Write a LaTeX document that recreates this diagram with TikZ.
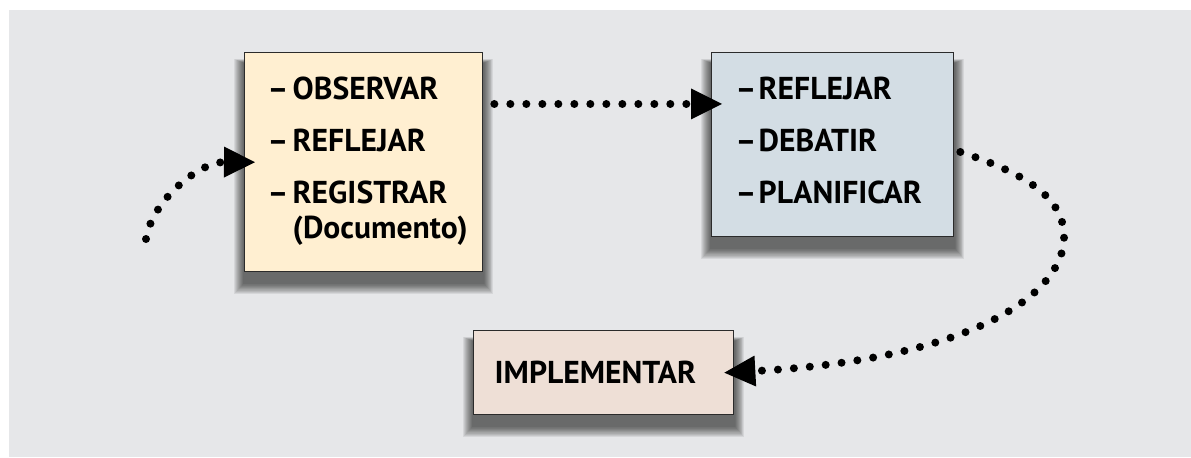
\documentclass[tikz,border=0pt]{standalone}
\usepackage{fontspec}
\setmainfont{PT Sans}
\usetikzlibrary{arrows.meta}
\pgfdeclarelayer{back}
\pgfsetlayers{back,main}
\definecolor{bggray}{HTML}{E6E7E9}
\definecolor{obsfill}{HTML}{FFEFD1}
\definecolor{discfill}{HTML}{D3DDE4}
\definecolor{implfill}{HTML}{EEDFD6}
\definecolor{boxline}{HTML}{2B2B2B}

\begin{document}
\begin{tikzpicture}[x=0.02cm,y=-0.02cm,
  box/.style={draw=boxline,line width=0.8pt,anchor=north west,
    inner ysep=0pt,align=left,
    font=\fontsize{18}{19.4}\selectfont\bfseries},
  dots/.style={line width=0.16cm,line cap=round,
    dash pattern=on 0pt off 0.32cm,
    -{Triangle[length=0.62cm,width=0.62cm,line width=0pt]}},
]
  \useasboundingbox (0,0) rectangle (1191,457);

  \node[box,fill=obsfill,inner xsep=0.46cm,text width=3.84cm,minimum height=4.38cm] (obs) at (244,52) {%
    \begin{tabular}{@{}p{0.5cm}@{}l@{}}
      – & OBSERVAR\\[10.2pt]
      – & REFLEJAR\\[10.2pt]
      – & REGISTRAR\\
        & (Documento)
    \end{tabular}};
  \node[box,fill=discfill,inner xsep=0.48cm,text width=3.88cm,minimum height=3.68cm] (disc) at (711,52) {%
    \begin{tabular}{@{}p{0.46cm}@{}l@{}}
      – & REFLEJAR\\[10.2pt]
      – & DEBATIR\\[10.2pt]
      – & PLANIFICAR
    \end{tabular}};
  \node[box,fill=implfill,inner xsep=0.42cm,text width=4.36cm,minimum height=1.68cm] (impl) at (473,330) {IMPLEMENTAR};

  \begin{pgfonlayer}{back}
    \fill[white] (0,0) rectangle (1191,457);
    \fill[bggray] (9,10) rectangle (1191,457);
    % soft shadows under the boxes
    \foreach \n in {obs,disc,impl}
      \foreach \k in {0,...,19}
        \fill[black,opacity=0.035]
          ([shift={(-0.2cm+\k*0.0095cm,-0.14cm-\k*0.004cm)}]\n.north west) rectangle
          ([shift={(0.2cm-\k*0.0095cm,-0.44cm+\k*0.011cm)}]\n.south east);
  \end{pgfonlayer}

  \coordinate (start) at (146,239);
  \draw[dots] (start) .. controls (152,200) and (200,162) .. ([xshift=0.22cm]obs.west);
  \draw[dots] ([shift={(0.22cm,-1.04cm)}]obs.north east) -- ([shift={(0.22cm,-1.04cm)}]disc.north west);
  \draw[dots] ([shift={(0.12cm,-2cm)}]disc.north east) .. controls (1030,175) and (1066,200) .. (1064,240)
    .. controls (1060,300) and (960,360) .. ([xshift=-0.2cm]impl.east);
\end{tikzpicture}
\end{document}
